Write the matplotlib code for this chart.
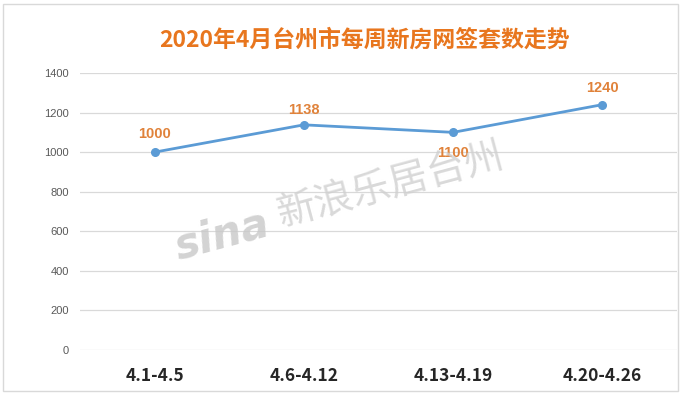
import matplotlib
matplotlib.use("Agg")
import matplotlib.pyplot as plt
from matplotlib.patches import Rectangle

plt.rcParams["font.family"] = ["Noto Sans CJK SC", "DejaVu Sans"]

# data
weeks = ["4.1-4.5", "4.6-4.12", "4.13-4.19", "4.20-4.26"]
sales = [1000, 1138, 1100, 1240]
label_offsets = [13, 11, -15, 12]   # points, above (+) or below (-) the marker
yticks = [0, 200, 400, 600, 800, 1000, 1200, 1400]

W, H = 682, 395
fig = plt.figure(figsize=(W / 100, H / 100), dpi=100)
ax = fig.add_axes([80 / W, 1 - 350 / H, 597 / W, 277 / H])

x = list(range(len(weeks)))
ax.plot(x, sales, "-o", color="#5B9BD5", lw=2.0, ms=5.5, zorder=3)
for xi, v, off in zip(x, sales, label_offsets):
    ax.annotate(f"{v}", (xi, v), xytext=(0, off), textcoords="offset points",
                ha="center", va="center", fontsize=10.5, fontweight="bold",
                color="#E0823A", family=["Liberation Sans", "DejaVu Sans"])

ax.set_xlim(-0.5, len(weeks) - 0.5)
ax.set_ylim(0, 1400)
ax.set_yticks(yticks)
ax.set_yticklabels([str(t) for t in yticks], fontsize=8, color="#595959",
                   family=["Liberation Sans", "DejaVu Sans"])
ax.set_xticks(x)
ax.set_xticklabels(weeks, fontsize=12.5, fontweight="bold", color="#262626")
ax.tick_params(axis="both", length=0)
ax.tick_params(axis="y", pad=8)
ax.tick_params(axis="x", pad=12)
ax.grid(axis="y", color="#D9D9D9", lw=0.9)
ax.set_axisbelow(True)
for s in ax.spines.values():
    s.set_visible(False)

# watermark
fig.text(222 / W, 1 - 235 / H, "sina", fontsize=30, fontweight="bold", style="italic",
         color="#C8C8C8", rotation=15, ha="center", va="center", alpha=0.8,
         family=["DejaVu Sans"])
fig.text(390 / W, 1 - 185 / H, "新浪乐居台州", fontsize=28, color="#D0D0D0",
         rotation=15, ha="center", va="center", alpha=0.8)

fig.text(364 / W, 1 - 40 / H, "2020年4月台州市每周新房网签套数走势", fontsize=16.5,
         fontweight="bold", color="#E8761E", ha="center", va="center")

fig.patches.append(Rectangle((3 / W, 4 / H), 675 / W, 387 / H, transform=fig.transFigure,
                             fill=False, edgecolor="#D9D9D9", lw=1))

fig.savefig("out.png", dpi=100)
